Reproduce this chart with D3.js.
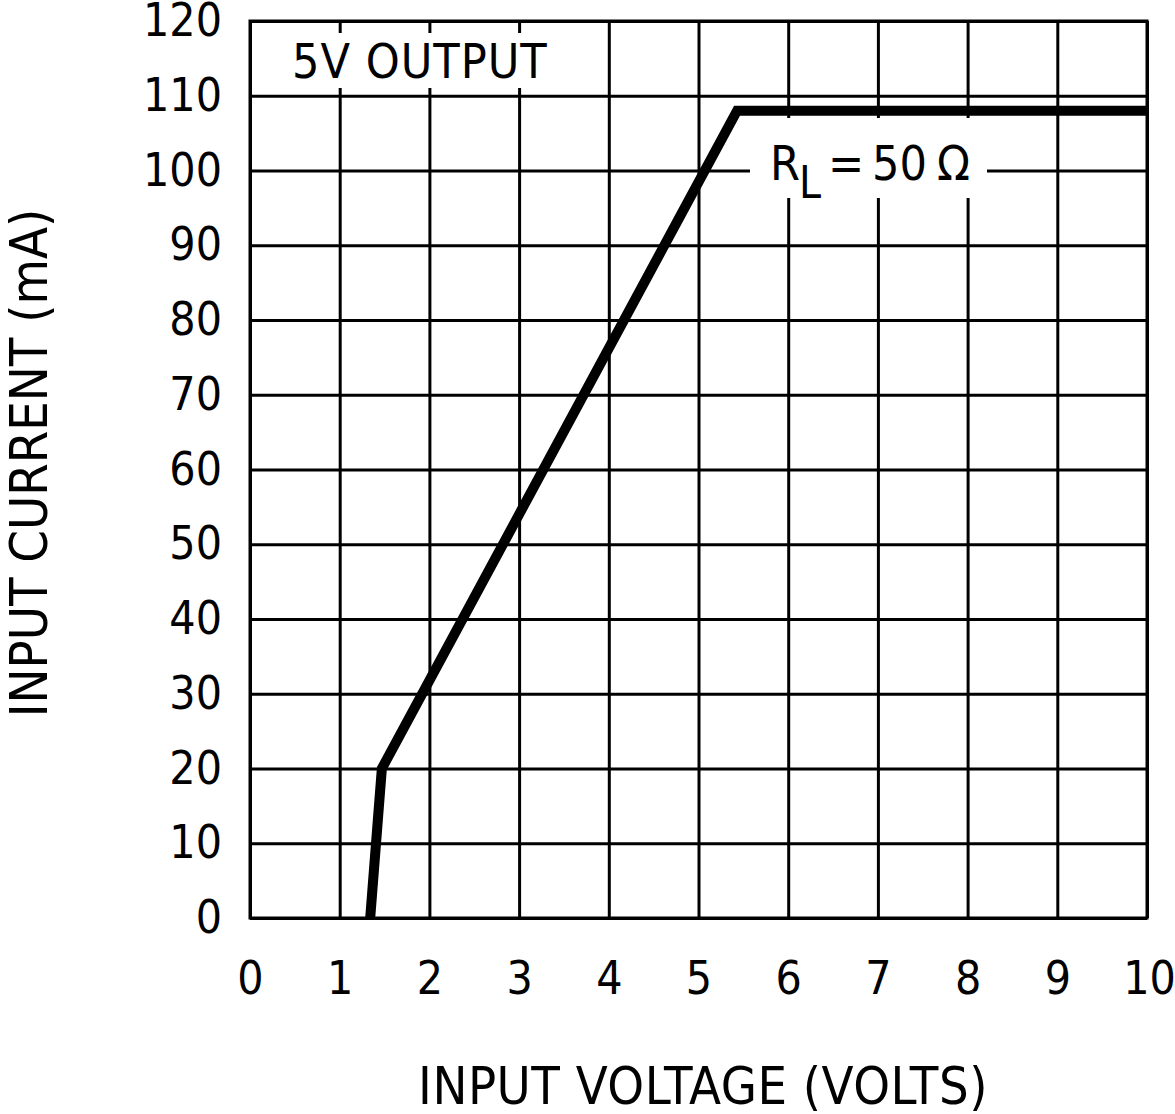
<!DOCTYPE html>
<html>
<head>
<meta charset="utf-8">
<script src="https://cdn.jsdelivr.net/npm/d3@7"></script>
<style>
  body { margin: 0; background: #fff; }
  text { font-family: "Liberation Sans Narrow", "DejaVu Sans Condensed", sans-serif; fill: #000; }
</style>
</head>
<body>
<div id="chart"></div>
<script>
// curve: input current vs input voltage, 5V output, RL = 50 ohm
var voltage = [1.34, 1.47, 5.43, 10];
var current = [0, 20, 108, 108];

var xTicks = [0, 1, 2, 3, 4, 5, 6, 7, 8, 9, 10];
var yTicks = [0, 10, 20, 30, 40, 50, 60, 70, 80, 90, 100, 110, 120];

var width = 1175;
var height = 1114;
var pLeft = 250, pRight = 1147, pTop = 21, pBottom = 918;

var svg = d3.select("#chart").append("svg")
    .attr("width", width)
    .attr("height", height);

var x = d3.scaleLinear().domain([0, 10]).range([pLeft, pRight]);
var y = d3.scaleLinear().domain([0, 120]).range([pBottom, pTop]);

// grid + tick labels
var xAxis = svg.append("g")
    .attr("transform", "translate(0," + pBottom + ")")
    .call(d3.axisBottom(x).tickValues(xTicks).tickFormat(d3.format("d"))
      .tickSizeInner(-(pBottom - pTop)).tickSizeOuter(0).tickPadding(43));

var yAxis = svg.append("g")
    .attr("transform", "translate(" + pLeft + ",0)")
    .call(d3.axisLeft(y).tickValues(yTicks).tickFormat(d3.format("d"))
      .tickSizeInner(-(pRight - pLeft)).tickSizeOuter(0).tickPadding(28));

[xAxis, yAxis].forEach(function(g){
  g.select(".domain").remove();
  g.selectAll("line").attr("stroke", "#000").attr("stroke-width", 3);
  g.selectAll("text")
    .attr("fill", "#000")
    .style("font-size", "46px");
});
// last x label sits a bit right of its grid line in the original
xAxis.selectAll(".tick").filter(function(d){ return d === 10; })
    .select("text").attr("dx", 2);

// frame
svg.append("rect")
    .attr("x", pLeft).attr("y", pTop)
    .attr("width", pRight - pLeft).attr("height", pBottom - pTop)
    .attr("fill", "none").attr("stroke", "#000").attr("stroke-width", 3);

// label boxes (white knock-outs over the grid)
svg.append("rect")
    .attr("x", pLeft + 2).attr("y", 33).attr("width", 308).attr("height", 55)
    .attr("fill", "#fff");
svg.append("text")
    .attr("x", 292).attr("y", 78)
    .style("font-size", "48px").style("letter-spacing", "1px")
    .text("5V OUTPUT");

svg.append("rect")
    .attr("x", 750).attr("y", 118).attr("width", 237).attr("height", 80)
    .attr("fill", "#fff");
var rl = svg.append("text")
    .attr("y", 180)
    .style("font-size", "48px");
rl.append("tspan").attr("x", 770).text("R");
rl.append("tspan").attr("x", 799).attr("dy", 18).style("font-size", "44px").text("L");
rl.append("tspan").attr("x", 828).attr("dy", -18).text("=");
rl.append("tspan").attr("x", 872).text("50");
rl.append("tspan").attr("x", 937).text("\u03A9");

// the curve
var line = d3.line()
    .x(function(d, i){ return x(voltage[i]); })
    .y(function(d, i){ return y(current[i]); });

svg.append("path")
    .datum(voltage)
    .attr("d", line)
    .attr("fill", "none")
    .attr("stroke", "#000")
    .attr("stroke-width", 10)
    .attr("stroke-linejoin", "miter");

// axis titles
svg.append("text")
    .attr("x", 703).attr("y", 1104)
    .attr("text-anchor", "middle")
    .style("font-size", "52px").style("letter-spacing", "0.5px")
    .text("INPUT VOLTAGE (VOLTS)");

svg.append("text")
    .attr("transform", "translate(47,463) rotate(-90)")
    .attr("text-anchor", "middle")
    .style("font-size", "52px")
    .text("INPUT CURRENT (mA)");
</script>
</body>
</html>
